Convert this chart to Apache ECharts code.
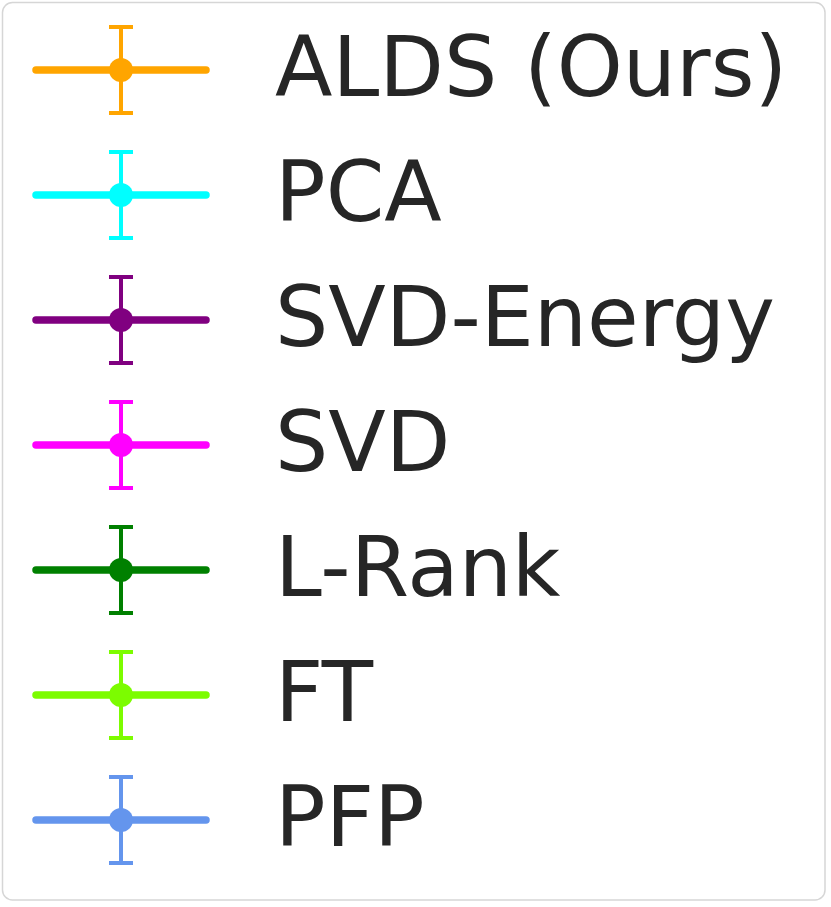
<!DOCTYPE html>
<html>
<head>
<meta charset="utf-8">
<script src="https://cdn.jsdelivr.net/npm/echarts@6/dist/echarts.min.js"></script>
<style>
  html, body { margin: 0; padding: 0; background: #fff; }
  #main { width: 831px; height: 907px; }
</style>
</head>
<body>
<div id="main"></div>
<script>
// legend entries, top to bottom
const names = ['ALDS (Ours)', 'PCA', 'SVD-Energy', 'SVD', 'L-Rank', 'FT', 'PFP'];
const colors = ['#FFA500', '#00FFFF', '#800080', '#FF00FF', '#008000', '#7CFC00', '#6495ED'];

const chart = echarts.init(document.getElementById('main'));

function renderGlyph(params, api) {
  const i = params.dataIndex;
  const p = api.coord([api.value(0), api.value(1)]);
  const c = colors[i];
  const x = p[0], y = p[1];
  return {
    type: 'group',
    children: [
      { type: 'line', shape: { x1: x - 85, y1: y, x2: x + 85, y2: y },
        style: { stroke: c, lineWidth: 7.5, lineCap: 'round' } },
      { type: 'line', shape: { x1: x, y1: y - 43, x2: x, y2: y + 43 },
        style: { stroke: c, lineWidth: 4 } },
      { type: 'line', shape: { x1: x - 12, y1: y - 43, x2: x + 12, y2: y - 43 },
        style: { stroke: c, lineWidth: 4 } },
      { type: 'line', shape: { x1: x - 12, y1: y + 43, x2: x + 12, y2: y + 43 },
        style: { stroke: c, lineWidth: 4 } },
      { type: 'circle', shape: { cx: x, cy: y, r: 12 }, style: { fill: c } },
      // label, nudged down a little to line up the caps with the marker
      { type: 'text', x: x + 154, y: y + 4,
        style: { text: names[i], fill: '#262626', fontSize: 84,
          fontFamily: 'DejaVu Sans', verticalAlign: 'middle', align: 'left' } }
    ]
  };
}

chart.setOption({
  animation: false,
  backgroundColor: '#ffffff',
  grid: { left: 121, right: 10, top: 70, bottom: 87 },
  xAxis: { type: 'value', min: 0, max: 1, show: false },
  yAxis: { type: 'category', data: names, inverse: true, boundaryGap: false, show: false },
  graphic: [{
    type: 'rect',
    shape: { x: 2.5, y: 2.5, width: 822.5, height: 897.5, r: 10 },
    style: { fill: 'none', stroke: '#d6d6d6', lineWidth: 1.5 },
    z: 0
  }],
  series: [{
    type: 'custom',
    renderItem: renderGlyph,
    data: names.map(n => [0, n])
  }]
});
</script>
</body>
</html>
